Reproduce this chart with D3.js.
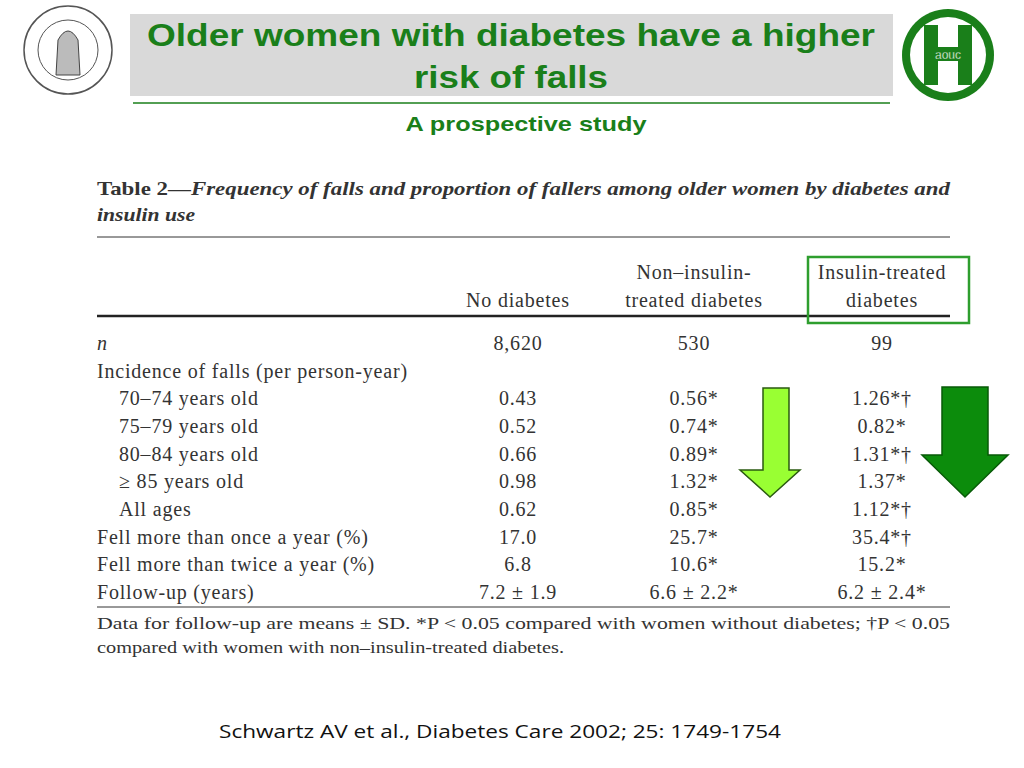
<!DOCTYPE html><html><head><meta charset="utf-8">
<script src="https://cdn.jsdelivr.net/npm/d3@7"></script>
<style>body{margin:0;background:#fff}</style></head><body>
<script>
const titleLines=["Older women with diabetes have a higher","risk of falls"];
const subtitle="A prospective study";
const tableTitle=["Table 2—Frequency of falls and proportion of fallers among older women by diabetes and","insulin use"];
const colHeads=[["No diabetes"],["Non–insulin-","treated diabetes"],["Insulin-treated","diabetes"]];
const rowLabels=["n","Incidence of falls (per person-year)","70–74 years old","75–79 years old","80–84 years old","≥ 85 years old","All ages","Fell more than once a year (%)","Fell more than twice a year (%)","Follow-up (years)"];
const indent=[0,0,1,1,1,1,1,0,0,0];
const noDiab=["8,620","","0.43","0.52","0.66","0.98","0.62","17.0","6.8","7.2 ± 1.9"];
const nonIns=["530","","0.56*","0.74*","0.89*","1.32*","0.85*","25.7*","10.6*","6.6 ± 2.2*"];
const ins=["99","","1.26*†","0.82*","1.31*†","1.37*","1.12*†","35.4*†","15.2*","6.2 ± 2.4*"];
const footnote=["Data for follow-up are means ± SD. *P < 0.05 compared with women without diabetes; †P < 0.05","compared with women with non–insulin-treated diabetes."];
const citation="Schwartz AV et al., Diabetes Care 2002; 25: 1749-1754";

const svg=d3.select("body").append("svg").attr("width",1024).attr("height",768);
const G="#1a7f1a";
svg.append("rect").attr("x",130).attr("y",14).attr("width",763).attr("height",82).attr("fill","#d9d9d9");
svg.selectAll(".t").data(titleLines).join("text").attr("x",511).attr("y",(d,i)=>46+i*42)
 .attr("text-anchor","middle").attr("font-family","Liberation Sans").attr("font-weight","bold").attr("font-size",31).attr("fill",G)
 .attr("textLength",(d,i)=>i?194:728).attr("lengthAdjust","spacingAndGlyphs").text(d=>d);
svg.append("line").attr("x1",133).attr("x2",890).attr("y1",103).attr("y2",103).attr("stroke",G).attr("stroke-width",1.5);
svg.append("text").attr("x",526).attr("y",131).attr("text-anchor","middle").attr("font-family","Liberation Sans").attr("font-weight","bold").attr("font-size",21).attr("fill",G)
 .attr("textLength",241).attr("lengthAdjust","spacingAndGlyphs").text(subtitle);
// logos
const L=svg.append("g").attr("transform","translate(68,50)");
L.append("circle").attr("r",44).attr("fill","none").attr("stroke","#555").attr("stroke-width",1.5);
L.append("circle").attr("r",30).attr("fill","none").attr("stroke","#555");
L.append("path").attr("d","M-12,25 L-10,-10 Q0,-28 10,-10 L12,25 Z").attr("fill","#bbb").attr("stroke","#444");
const R=svg.append("g").attr("transform","translate(948,55)");
R.append("circle").attr("r",46).attr("fill",G);
R.append("circle").attr("r",38).attr("fill","#fff");
R.append("path").attr("d","M-24,-30h14v22h20v-22h14v60h-14v-24h-20v24h-14z").attr("fill",G);
R.append("text").attr("y",4).attr("text-anchor","middle").attr("font-family","Liberation Sans").attr("font-size",12).attr("fill","#fff").attr("stroke",G).attr("stroke-width",0.3).text("aouc");
// table
const serif="Liberation Serif", tc="#333", FS=20, LS=0.8;
svg.selectAll(".tt").data(tableTitle).join("text").attr("x",97).attr("y",(d,i)=>195+i*26)
 .attr("font-family",serif).attr("font-size",19).attr("font-weight","bold").attr("fill",tc)
 .attr("textLength",(d,i)=>i?98:853).attr("lengthAdjust","spacingAndGlyphs")
 .each(function(d,i){const s=d3.select(this);
   if(i==0){s.append("tspan").text("Table 2—");s.append("tspan").attr("font-style","italic").text(d.slice(8));}
   else s.append("tspan").attr("font-style","italic").text(d);});
svg.append("line").attr("x1",97).attr("x2",950).attr("y1",237).attr("y2",237).attr("stroke",tc);
const colX=[518,694,882];
colHeads.forEach((h,c)=>h.forEach((t,j)=>svg.append("text").attr("x",colX[c]).attr("y",307-(h.length-1-j)*28)
 .attr("text-anchor","middle").attr("font-family",serif).attr("font-size",FS).attr("letter-spacing",LS).attr("fill",tc).text(t)));
svg.append("line").attr("x1",97).attr("x2",950).attr("y1",316).attr("y2",316).attr("stroke","#222").attr("stroke-width",2.5);
svg.append("rect").attr("x",808).attr("y",257).attr("width",161).attr("height",66).attr("fill","none").attr("stroke","#2e9e2e").attr("stroke-width",2.5);
const y=d3.scaleBand().domain(d3.range(rowLabels.length)).range([329,606]);
const yy=i=>y(i)+y.bandwidth()/2+7;
svg.selectAll(".rl").data(rowLabels).join("text").attr("x",(d,i)=>97+indent[i]*22).attr("y",(d,i)=>yy(i))
 .attr("font-family",serif).attr("font-size",FS).attr("letter-spacing",LS).attr("fill",tc).attr("font-style",(d,i)=>i==0?"italic":null).text(d=>d);
[noDiab,nonIns,ins].forEach((col,c)=>svg.selectAll(".c"+c).data(col).join("text").attr("x",colX[c]).attr("y",(d,i)=>yy(i))
 .attr("text-anchor","middle").attr("font-family",serif).attr("font-size",FS).attr("letter-spacing",LS).attr("fill",tc).text(d=>d));
svg.append("line").attr("x1",97).attr("x2",950).attr("y1",607).attr("y2",607).attr("stroke",tc);
svg.selectAll(".fn").data(footnote).join("text").attr("x",97).attr("y",(d,i)=>629+i*24)
 .attr("font-family",serif).attr("font-size",16).attr("fill",tc)
 .attr("textLength",(d,i)=>i?467:853).attr("lengthAdjust","spacingAndGlyphs").text(d=>d);
// arrows
svg.append("path").attr("d","M763,388h26v82h11l-30,27l-30,-27h23z").attr("fill","#99ff33").attr("stroke","#2a5a10").attr("stroke-width",1.5);
svg.append("path").attr("d","M942,387h46v68h20l-43,42l-43,-42h20z").attr("fill","#0c8c0c").attr("stroke","#075a07").attr("stroke-width",1.5);
svg.append("text").attr("x",500).attr("y",738).attr("text-anchor","middle").attr("font-family","Open Sans").attr("font-size",19).attr("fill","#111")
 .attr("textLength",562).attr("lengthAdjust","spacingAndGlyphs").text(citation);
</script></body></html>
